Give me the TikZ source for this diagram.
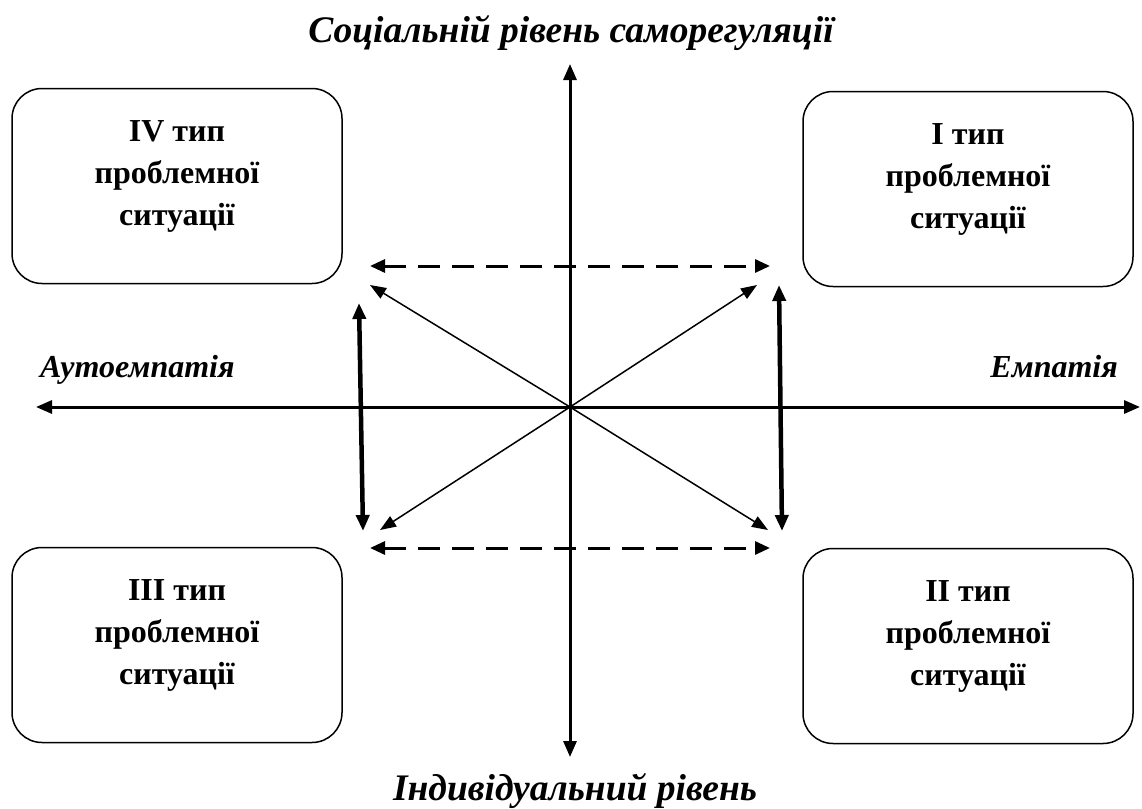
\documentclass[tikz,border=0pt]{standalone}
\usepackage{fontspec}
\setmainfont{Liberation Serif}
\usepackage{tikz}
\usetikzlibrary{arrows.meta, positioning, calc}

\tikzset{
    typebox/.style={
        rectangle,
        rounded corners=30pt,
        draw=black,
        line width=1.5pt,
        minimum width=330pt,
        minimum height=195pt
    },
    typetext/.style={
        align=center,
        font=\fontsize{32}{42}\selectfont\bfseries
    },
    axislabel/.style={font=\fontsize{32}{36}\selectfont\bfseries\itshape, inner sep=0pt},
    axistitle/.style={font=\fontsize{37.5}{42}\selectfont\bfseries\itshape, inner sep=0pt},
    axisline/.style={line width=3pt, {Triangle[length=16pt,width=13pt]}-{Triangle[length=16pt,width=13pt]}},
    dasharrow/.style={line width=3pt, dash pattern=on 22pt off 12pt, {Triangle[length=15pt,width=13pt]}-{Triangle[length=15pt,width=13pt]}},
    diagarrow/.style={line width=1.5pt, -{Triangle[length=16pt,width=12pt]}},
    sidearrow/.style={line width=4.5pt, {Triangle[length=16pt,width=13pt]}-{Triangle[length=16pt,width=13pt]}}
}

\begin{document}
\begin{tikzpicture}[x=1pt, y=-1pt]
    \useasboundingbox (0,0) rectangle (1142,808);

    % quadrant boxes
    \node[typebox] (typeIV) at (177,186) {};
    \node[typebox] (typeI) at (968,189) {};
    \node[typebox] (typeIII) at (177,645) {};
    \node[typebox] (typeII) at (968,646) {};
    \node[typetext] at ([yshift=10pt]typeIV.center) {IV тип\\проблемної\\ситуації};
    \node[typetext] at ([yshift=10pt]typeI.center) {I тип\\проблемної\\ситуації};
    \node[typetext] at ([yshift=10pt]typeIII.center) {III тип\\проблемної\\ситуації};
    \node[typetext] at ([yshift=10pt]typeII.center) {II тип\\проблемної\\ситуації};

    % axes
    \coordinate (O) at (570,407);
    \coordinate (top) at (570,64);
    \coordinate (bottom) at (570,757);
    \coordinate (left) at (36,407);
    \coordinate (right) at (1140,407);
    \draw[axisline] (bottom) -- (top);
    \draw[axisline] (left) -- (right);

    % axis labels
    \node[axistitle, anchor=base] (social) at (571,42) {Соціальній рівень саморегуляції};
    \node[axistitle, anchor=base] (individual) at (575,800) {Індивідуальний рівень};
    \node[axislabel, anchor=base west] (autoemp) at (40,377) {Аутоемпатія};
    \node[axislabel, anchor=base east] (emp) at (1118,377) {Емпатія};

    % arrows between quadrants
    \coordinate (ul) at (370,285);
    \coordinate (ur) at (757,285);
    \coordinate (ll) at (380,530);
    \coordinate (lr) at (768,530);
    \foreach \c in {ul, ur, ll, lr}
        \draw[diagarrow] (O) -- (\c);

    \coordinate (dtl) at (370,266);
    \coordinate (dtr) at (770,266);
    \coordinate (dbl) at (370,548);
    \coordinate (dbr) at (770,548);
    \draw[dasharrow] (dtl) -- (dtr);
    \draw[dasharrow] (dbl) -- (dbr);

    \coordinate (vlt) at (359,303);
    \coordinate (vlb) at (363,531);
    \coordinate (vrt) at (779,285);
    \coordinate (vrb) at (782,531);
    \draw[sidearrow] (vlt) -- (vlb);
    \draw[sidearrow] (vrt) -- (vrb);
\end{tikzpicture}
\end{document}
